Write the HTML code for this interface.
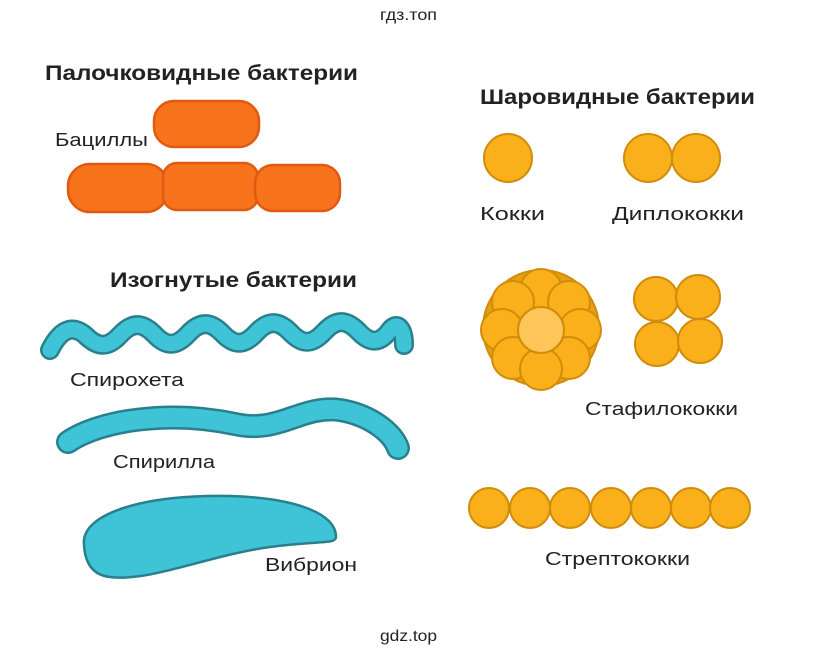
<!DOCTYPE html>
<html><head><meta charset="utf-8"><style>
html,body{margin:0;padding:0;background:#fff;}
svg{display:block;}
text{font-family:"Liberation Sans","DejaVu Sans",sans-serif;fill:#222;}
.b{font-weight:bold;font-size:21px;}
.l{font-size:18px;}
</style></head><body>
<svg width="818" height="655" viewBox="0 0 818 655">
<text x="380" y="20" textLength="57" lengthAdjust="spacingAndGlyphs" style="font-size:16px">гдз.топ</text>
<text x="380" y="641" textLength="57" lengthAdjust="spacingAndGlyphs" style="font-size:16px">gdz.top</text>

<text class="b" x="45" y="80" textLength="313" lengthAdjust="spacingAndGlyphs">Палочковидные бактерии</text>
<text class="l" x="55" y="146" textLength="93" lengthAdjust="spacingAndGlyphs">Бациллы</text>
<g fill="#f7731c" stroke="#e05a12" stroke-width="2.5">
<rect x="154" y="101" width="105" height="46" rx="20"/>
<rect x="68" y="164" width="100" height="48" rx="22"/>
<rect x="163" y="163" width="95" height="47" rx="14"/>
<rect x="255" y="165" width="85" height="46" rx="18"/>
</g>

<text class="b" x="110" y="287" textLength="247" lengthAdjust="spacingAndGlyphs">Изогнутые бактерии</text>
<path d="M50,350 C60,330 72,324 85,335 C98,348 108,348 120,335 C132,322 142,322 154,334 C166,347 176,347 188,334 C200,321 210,321 222,333 C234,346 244,346 256,333 C268,320 278,320 290,332 C302,345 312,345 324,332 C336,319 346,319 358,331 C370,344 380,344 390,330 C398,320 404,330 404,345" fill="none" stroke="#2a7f8c" stroke-width="20" stroke-linecap="round"/>
<path d="M50,350 C60,330 72,324 85,335 C98,348 108,348 120,335 C132,322 142,322 154,334 C166,347 176,347 188,334 C200,321 210,321 222,333 C234,346 244,346 256,333 C268,320 278,320 290,332 C302,345 312,345 324,332 C336,319 346,319 358,331 C370,344 380,344 390,330 C398,320 404,330 404,345" fill="none" stroke="#3fc3d6" stroke-width="15" stroke-linecap="round"/>
<text class="l" x="70" y="386" textLength="114" lengthAdjust="spacingAndGlyphs">Спирохета</text>

<path d="M68,442 C100,420 170,410 235,424 C280,434 300,405 340,410 C370,415 392,432 398,448" fill="none" stroke="#2a7f8c" stroke-width="24" stroke-linecap="round"/>
<path d="M68,442 C100,420 170,410 235,424 C280,434 300,405 340,410 C370,415 392,432 398,448" fill="none" stroke="#3fc3d6" stroke-width="19" stroke-linecap="round"/>
<text class="l" x="113" y="468" textLength="102" lengthAdjust="spacingAndGlyphs">Спирилла</text>

<path d="M84,545 C80,512 150,494 230,496 C300,498 335,515 336,536 C337,545 320,540 270,547 C210,555 150,582 110,577 C92,575 85,562 84,545 Z" fill="#3fc3d6" stroke="#2a7f8c" stroke-width="2.5"/>
<text class="l" x="265" y="571" textLength="92" lengthAdjust="spacingAndGlyphs">Вибрион</text>

<text class="b" x="480" y="104" textLength="275" lengthAdjust="spacingAndGlyphs">Шаровидные бактерии</text>
<g fill="#f9b01a" stroke="#d08c0a" stroke-width="2">
<circle cx="508" cy="158" r="24"/>
<circle cx="648" cy="158" r="24"/>
<circle cx="696" cy="158" r="24"/>
</g>
<text class="l" x="480" y="220" textLength="65" lengthAdjust="spacingAndGlyphs">Кокки</text>
<text class="l" x="612" y="220" textLength="132" lengthAdjust="spacingAndGlyphs">Диплококки</text>

<g stroke="#d08c0a" stroke-width="2">
<circle cx="541" cy="328" r="58" fill="#e6a012"/>
<g fill="#f9b01a">
<circle cx="541" cy="290" r="21"/>
<circle cx="569" cy="302" r="21"/>
<circle cx="513" cy="302" r="21"/>
<circle cx="580" cy="330" r="21"/>
<circle cx="502" cy="330" r="21"/>
<circle cx="569" cy="358" r="21"/>
<circle cx="513" cy="358" r="21"/>
<circle cx="541" cy="369" r="21"/>
</g>
<circle cx="541" cy="330" r="23" fill="#fdc55a"/>
<g fill="#f9b01a">
<circle cx="656" cy="299" r="22"/>
<circle cx="698" cy="297" r="22"/>
<circle cx="657" cy="344" r="22"/>
<circle cx="700" cy="341" r="22"/>
</g>
</g>
<text class="l" x="585" y="415" textLength="153" lengthAdjust="spacingAndGlyphs">Стафилококки</text>

<g fill="#f9b01a" stroke="#d08c0a" stroke-width="2">
<circle cx="489" cy="508" r="20"/>
<circle cx="530" cy="508" r="20"/>
<circle cx="570" cy="508" r="20"/>
<circle cx="611" cy="508" r="20"/>
<circle cx="651" cy="508" r="20"/>
<circle cx="691" cy="508" r="20"/>
<circle cx="730" cy="508" r="20"/>
</g>
<text class="l" x="545" y="565" textLength="145" lengthAdjust="spacingAndGlyphs">Стрептококки</text>
</svg>
</body></html>
